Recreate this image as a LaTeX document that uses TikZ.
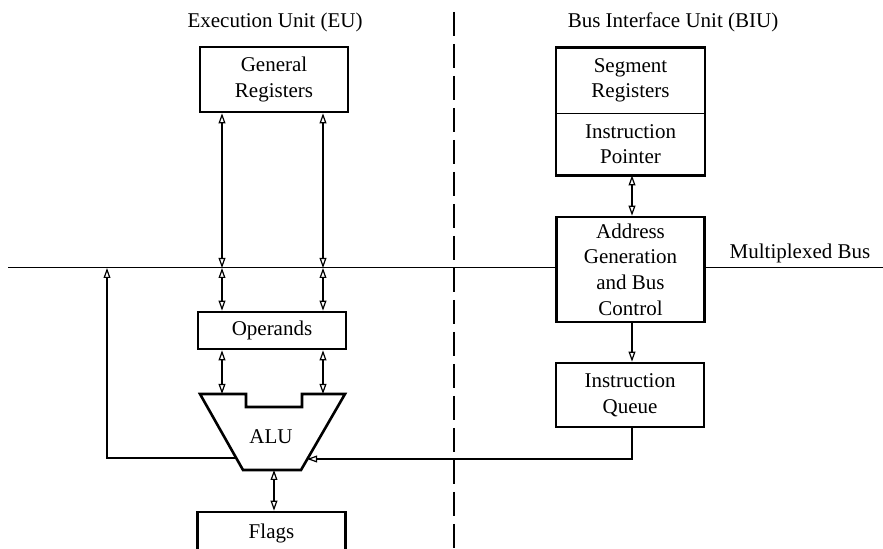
\documentclass[tikz,border=0pt]{standalone}
\usepackage{fontspec}
\setmainfont{Liberation Serif}
\usepackage{tikz}
\usetikzlibrary{arrows.meta, positioning}

\begin{document}
\begin{tikzpicture}[
    x=0.5pt, y=-0.5pt,
    font=\fontsize{10.5}{12.8}\selectfont,
    box/.style = {rectangle, draw=black, line width=1.3pt, minimum width=74pt, text centered, align=center, inner sep=0pt},
    plain/.style = {rectangle, minimum width=74pt, text centered, align=center, inner sep=0pt},
    title/.style = {align=center, inner sep=0pt},
    line/.style = {draw=black, line width=0.6pt, -{Triangle[open, length=5pt, width=3.4pt]}},
    dline/.style = {draw=black, line width=0.6pt, {Triangle[open, length=5pt, width=3.4pt]}-{Triangle[open, length=5pt, width=3.4pt]}},
    bus/.style = {draw=black, line width=0.5pt}
]
    \useasboundingbox (0,0) rectangle (883,549);

    % Titles
    \node [title] (eu) at (275, 22) {Execution Unit (EU)};
    \node [title] (biu) at (673, 22) {Bus Interface Unit (BIU)};
    \draw [line width=0.9pt, dash pattern=on 12pt off 4pt] (454, 12) -- (454, 549);

    % Bus
    \coordinate (busL) at (8, 268);
    \coordinate (busR) at (883, 268);
    \node [title] (busname) at (800, 253) {Multiplexed Bus};

    % Execution Unit
    \node [box, minimum height=32.5pt] (gr) at (274, 79.5) {General\\Registers};
    \node [box, minimum height=18.5pt] (operands) at (272, 330.5) {Operands};
    \node [box, minimum height=21pt] (flags) at (271.5, 533) {Flags};
    \node [title] (alu) at (271, 437) {ALU};
    \draw [line width=1.3pt, line join=miter]
        (200,394) -- (246,394) -- (246,407) -- (302,407) -- (302,394) -- (345,394)
        -- (301,470) -- (243,470) -- cycle;
    \coordinate (colA) at (222, 394);
    \coordinate (colB) at (323, 394);
    \coordinate (aluout) at (274, 470);
    \coordinate (aluL) at (236, 458);
    \coordinate (aluR) at (307, 459);
    \coordinate (back) at (107, 458);

    % Bus Interface Unit
    \node [plain, minimum height=32.5pt] (seg) at (630.5, 80.5) {Segment\\Registers};
    \node [plain, minimum height=31pt] (ip) at (630.5, 144) {Instruction\\Pointer};
    \draw [line width=1.3pt] (seg.north west) rectangle (ip.south east);
    \draw [line width=0.6pt] (seg.south west) -- (seg.south east);
    \node [box, minimum height=52.5pt] (addr) at (630.5, 269.5) {Address\\Generation\\and Bus\\Control};
    \node [box, minimum height=32pt] (queue) at (630, 395) {Instruction\\Queue};
    \coordinate (qturn) at (632, 459);

    % Bus line
    \draw [bus] (busL) -- (addr.west |- busL);
    \draw [bus] (addr.east |- busR) -- (busR);

    % Arrows - EU
    \draw [dline] (gr.south -| colA) -- (colA |- busL);
    \draw [dline] (gr.south -| colB) -- (colB |- busL);
    \draw [dline] (colA |- busL) -- (operands.north -| colA);
    \draw [dline] (colB |- busL) -- (operands.north -| colB);
    \draw [dline] (operands.south -| colA) -- (colA);
    \draw [dline] (operands.south -| colB) -- (colB);
    \draw [dline] (aluout) -- (flags.north -| aluout);
    \draw [line] (aluL) -- (back) -- (back |- busL);

    % Arrows - BIU
    \draw [dline] (ip.south -| qturn) -- (addr.north -| qturn);
    \draw [line] (addr.south -| qturn) -- (queue.north -| qturn);
    \draw [line] (queue.south -| qturn) -- (qturn) -- (aluR);
\end{tikzpicture}
\end{document}
